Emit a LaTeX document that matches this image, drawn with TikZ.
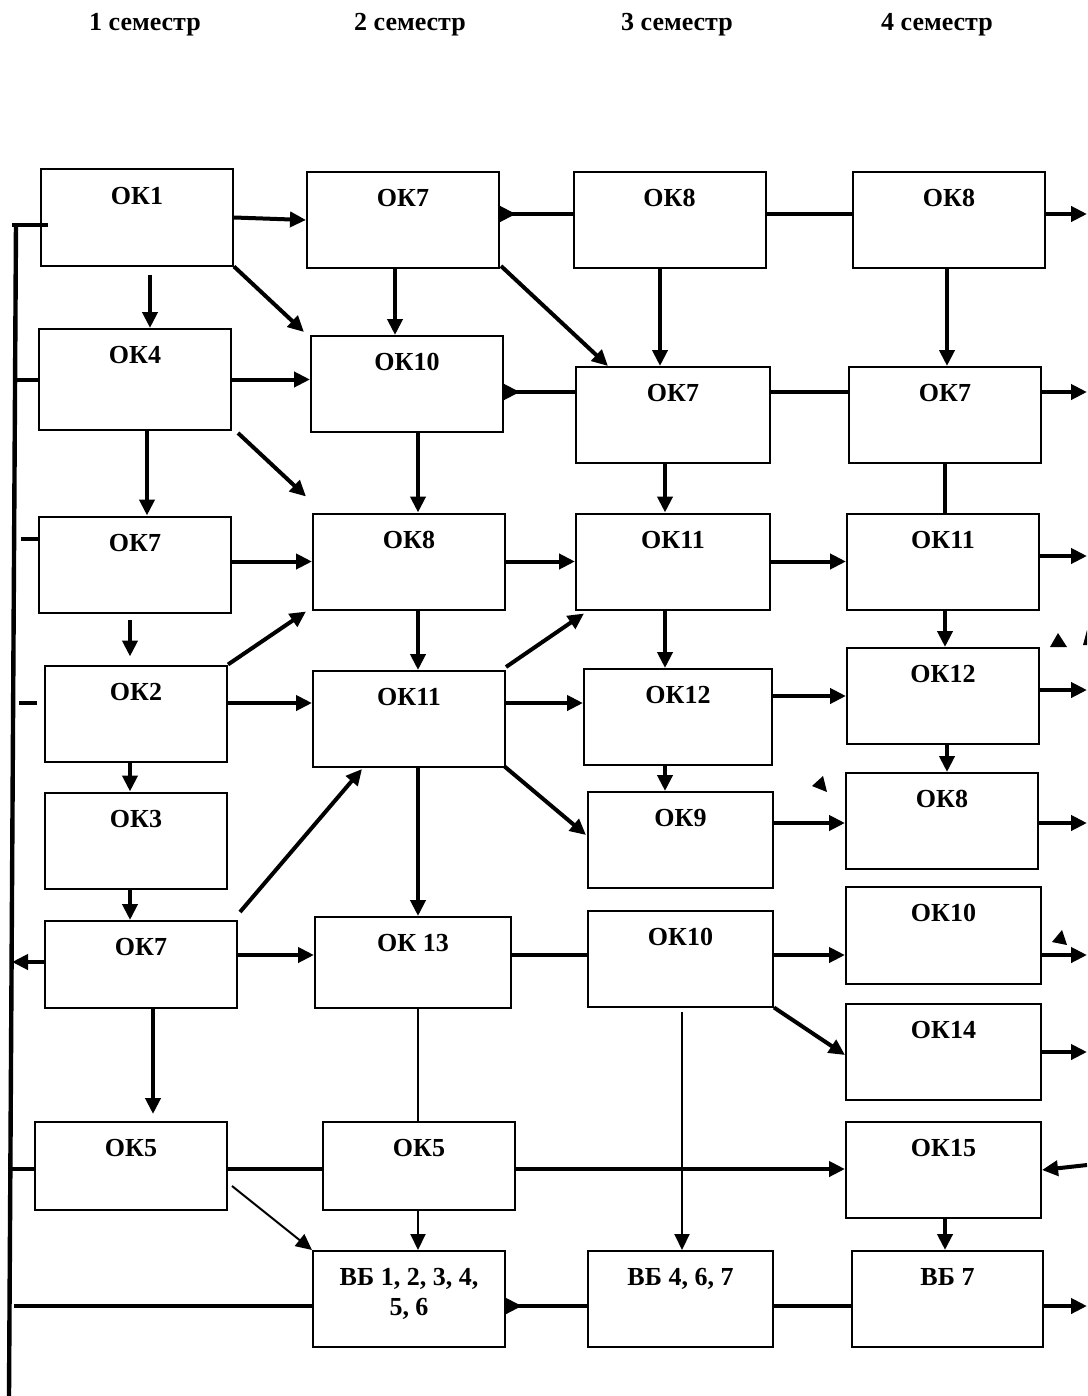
\documentclass[tikz,border=0pt]{standalone}
\usepackage{fontspec}
\setmainfont{Liberation Serif}
\usetikzlibrary{arrows.meta,calc}

\tikzset{
  box/.style={draw, line width=1pt, minimum width=96pt, minimum height=48pt, inner sep=0pt},
  lbl/.style={below=9pt, inner sep=0pt, align=center},
  link/.style={line width=2pt},
  thinlink/.style={line width=1pt},
  bus/.style={line width=2.2pt},
}

\begin{document}
\begin{tikzpicture}[x=0.5pt, y=-0.5pt, >={Triangle[length=8pt,width=7.5pt]},
  font=\bfseries\fontsize{13pt}{15pt}\selectfont]
\useasboundingbox (0,0) rectangle (1087,1396);

% Semester headings
\node (h1) at (145,25) {1 семестр};
\node (h2) at (410,25) {2 семестр};
\node (h3) at (677,25) {3 семестр};
\node (h4) at (937,25) {4 семестр};

% Column 1
\node[box, label={[lbl]north:ОК1}] (k1a) at (137,217.5) {};
\node[box, minimum height=50.5pt, label={[lbl]north:ОК4}] (k1b) at (135,379.5) {};
\node[box, label={[lbl]north:ОК7}] (k1c) at (135,564.5) {};
\node[box, minimum width=91pt, label={[lbl]north:ОК2}] (k1d) at (136,713.5) {};
\node[box, minimum width=91pt, label={[lbl]north:ОК3}] (k1e) at (136,840.5) {};
\node[box, minimum height=43.5pt, label={[lbl]north:ОК7}] (k1f) at (141,964.5) {};
\node[box, minimum height=44pt, label={[lbl]north:ОК5}] (k1g) at (131,1166) {};

% Column 2
\node[box, label={[lbl]north:ОК7}] (k2a) at (403,220) {};
\node[box, label={[lbl]north:ОК10}] (k2b) at (407,384) {};
\node[box, label={[lbl]north:ОК8}] (k2c) at (409,561.5) {};
\node[box, label={[lbl]north:ОК11}] (k2d) at (409,719) {};
\node[box, minimum width=98pt, minimum height=45.5pt, label={[lbl]north:ОК 13}] (k2e) at (413,962.5) {};
\node[box, minimum height=44pt, label={[lbl]north:ОК5}] (k2f) at (419,1166) {};
\node[box, label={[lbl]north:{ВБ 1, 2, 3, 4,\\ 5, 6}}] (k2g) at (409,1299) {};

% Column 3
\node[box, label={[lbl]north:ОК8}] (k3a) at (669.5,220) {};
\node[box, minimum width=97pt, label={[lbl]north:ОК7}] (k3b) at (673,415) {};
\node[box, minimum width=97pt, label={[lbl]north:ОК11}] (k3c) at (673,561.5) {};
\node[box, minimum width=94pt, label={[lbl]north:ОК12}] (k3d) at (678,717) {};
\node[box, minimum width=92.5pt, label={[lbl]north:ОК9}] (k3e) at (680.5,840) {};
\node[box, minimum width=92.5pt, label={[lbl]north:ОК10}] (k3f) at (680.5,958.5) {};
\node[box, minimum width=92.5pt, label={[lbl]north:{ВБ 4, 6, 7}}] (k3g) at (680.5,1299) {};

% Column 4
\node[box, label={[lbl]north:ОК8}] (k4a) at (949,220) {};
\node[box, label={[lbl]north:ОК7}] (k4b) at (945,415) {};
\node[box, label={[lbl]north:ОК11}] (k4c) at (943,561.5) {};
\node[box, label={[lbl]north:ОК12}] (k4d) at (943,696) {};
\node[box, label={[lbl]north:ОК8}] (k4e) at (942,821) {};
\node[box, minimum width=97.5pt, minimum height=48.5pt, label={[lbl]north:ОК10}] (k4f) at (943.5,935.5) {};
\node[box, minimum width=97.5pt, label={[lbl]north:ОК14}] (k4g) at (943.5,1052) {};
\node[box, minimum width=97.5pt, label={[lbl]north:ОК15}] (k4h) at (943.5,1170) {};
\node[box, minimum width=95.5pt, label={[lbl]north:{ВБ 7}}] (k4i) at (947.5,1299) {};

% Free ends on the left bus and the right edge
\coordinate (top) at (16,224);
\coordinate (bot) at (9,1396);
\coordinate (s1) at (12,225);
\coordinate (s2) at (14,380);
\coordinate (s3) at (21,539);
\coordinate (s4) at (19,703);
\coordinate (s5) at (12,962);
\coordinate (s6) at (10,1169);
\coordinate (s7) at (14,1306);
\coordinate (e1) at (1087,214);
\coordinate (e2) at (1087,392);
\coordinate (e3) at (1087,556);
\coordinate (e4) at (1087,690);
\coordinate (e5) at (1087,823);
\coordinate (e6) at (1087,955);
\coordinate (e7) at (1087,1052);
\coordinate (e8) at (1087,1165);
\coordinate (e9) at (1087,1306);

% Left bus
\draw[bus] (top) -- (bot);
\draw[link] (s1) -- ($(k1a.west |- s1)+(8,0)$);
\draw[link] (s2) -- (k1b.west |- s2);
\draw[link] (s3) -- (k1c.west |- s3);
\draw[link] (s4) -- ($(k1d.west |- s4)+(-7,0)$);
\draw[link,->] (k1f.west |- s5) -- (s5);
\draw[link] (s6) -- (k1g.west |- s6);

% Horizontal links
\draw[link,->] (k1a.east) -- (k2a.west);
\draw[link,{Triangle[reversed,length=8pt,width=7.5pt]}-] (k2a.east |- e1) -- (k3a.west |- e1);
\draw[link] (k3a.east |- e1) -- (k4a.west |- e1);
\draw[link,->] (k4a.east |- e1) -- (e1);

\draw[link,->] (k1b.east) -- (k2b.west |- k1b.east);
\draw[link,{Triangle[reversed,length=8pt,width=7.5pt]}-] (k2b.east |- e2) -- (k3b.west |- e2);
\draw[link] (k3b.east |- e2) -- (k4b.west |- e2);
\draw[link,->] (k4b.east |- e2) -- (e2);

\draw[link,->] (k1c.east |- k2c.west) -- (k2c.west);
\draw[link,->] (k2c.east) -- (k3c.west);
\draw[link,->] (k3c.east) -- (k4c.west);
\draw[link,->] (k4c.east |- e3) -- (e3);

\draw[link,->] (k1d.east |- s4) -- (k2d.west |- s4);
\draw[link,->] (k2d.east |- s4) -- (k3d.west |- s4);
\draw[link,->] (k3d.east |- k4d.west) -- (k4d.west);
\draw[link,->] (k4d.east |- e4) -- (e4);

\draw[link,->] (k3e.east |- e5) -- (k4e.west |- e5);
\draw[link,->] (k4e.east |- e5) -- (e5);

\draw[link,->] (k1f.east |- e6) -- (k2e.west |- e6);
\draw[link] (k2e.east |- e6) -- (k3f.west |- e6);
\draw[link,->] (k3f.east |- e6) -- (k4f.west |- e6);
\draw[link,->] (k4f.east |- e6) -- (e6);
\draw[link,->] (k4g.east |- e7) -- (e7);

\draw[link] (k1g.east |- s6) -- (k2f.west |- s6);
\draw[link,->] (k2f.east |- s6) -- (k4h.west |- s6);
\draw[link,->] (e8) -- (k4h.east);

\draw[link] (s7) -- (k2g.west |- s7);
\draw[link,{Triangle[reversed,length=8pt,width=7.5pt]}-] (k2g.east |- s7) -- (k3g.west |- s7);
\draw[link] (k3g.east |- s7) -- (k4i.west |- s7);
\draw[link,->] (k4i.east |- e9) -- (e9);

% Vertical links
\draw[link,->] ($(k1a.south)+(13,8)$) -- ($(k1b.north)+(15,0)$);
\draw[link,->] ($(k2a.south)+(-8,0)$) -- ($(k2b.north)+(-12,0)$);
\draw[link,->] ($(k3a.south)+(-9.5,0)$) -- ($(k3b.north)+(-13,0)$);
\draw[link,->] ($(k4a.south)+(-2,0)$) -- ($(k4b.north)+(2,0)$);
\draw[link,->] ($(k1b.south)+(12,0)$) -- ($(k1c.north)+(12,0)$);
\draw[link,->] ($(k2b.south)+(11,0)$) -- ($(k2c.north)+(9,0)$);
\draw[link,->] ($(k3b.south)+(-8,0)$) -- ($(k3c.north)+(-8,0)$);
\draw[link] (k4b.south) -- ($(k4c.north)+(2,0)$);
\draw[link,->] ($(k1c.south)+(-5,6)$) -- ($(k1d.north)+(-6,-8)$);
\draw[link,->] ($(k2c.south)+(9,0)$) -- ($(k2d.north)+(9,0)$);
\draw[link,->] ($(k3c.south)+(-8,0)$) -- ($(k3d.north)+(-13,0)$);
\draw[link,->] ($(k4c.south)+(2,0)$) -- ($(k4d.north)+(2,0)$);
\draw[link,->] ($(k1d.south)+(-6,0)$) -- ($(k1e.north)+(-6,0)$);
\draw[link,->] ($(k2d.south)+(9,0)$) -- ($(k2e.north)+(5,0)$);
\draw[link,->] ($(k3d.south)+(-13,0)$) -- ($(k3e.north)+(-15.5,0)$);
\draw[link,->] ($(k4d.south)+(4,0)$) -- ($(k4e.north)+(5,0)$);
\draw[link,->] ($(k1e.south)+(-6,0)$) -- ($(k1f.north)+(-11,0)$);
\draw[link,->] ($(k1f.south)+(12,0)$) -- ($(k1g.north)+(22,-7)$);
\draw[thinlink] ($(k2e.south)+(5,0)$) -- ($(k2f.north)+(-1,0)$);
\draw[thinlink,->] ($(k3f.south)+(1.5,4)$) -- ($(k3g.north)+(1.5,0)$);
\draw[thinlink,->] ($(k2f.south)+(-1,0)$) -- ($(k2g.north)+(9,0)$);
\draw[link,->] ($(k4h.south)+(1.5,0)$) -- ($(k4i.north)+(-2.5,0)$);

% Slanted links
\draw[link,->] (k1a.south east) -- ($(k2b.north west)+(-6,-3)$);
\draw[link,->] ($(k2a.south east)+(1,-3)$) -- ($(k3b.north west)+(33,0)$);
\draw[link,->] ($(k1b.south east)+(6,2)$) -- ($(k2c.north west)+(-6,-16)$);
\draw[link,->] (k1d.north east) -- ($(k2c.south west)+(-6,1)$);
\draw[link,->] ($(k2d.north east)+(0,-3)$) -- ($(k3c.south west)+(9,3)$);
\draw[link,->] ($(k2d.south east)+(-2,-2)$) -- ($(k3e.west)+(-1,-5)$);
\draw[link,->] ($(k1f.north east)+(2,-8)$) -- ($(k2d.south)+(-47,1)$);
\draw[link,->] (k3f.south east) -- ($(k4g.west)+(0,3)$);
\draw[thinlink,->] ($(k1g.east)+(4,20)$) -- (k2g.north west);

% Stray arrow heads
\fill (1050,647) -- (1067,647) -- (1058,633) -- cycle;
\fill (1083,645) -- (1087,645) -- (1087,630) -- cycle;
\fill (823,776) -- (812,786) -- (827,792) -- cycle;
\fill (1062,930) -- (1052,942) -- (1067,945) -- cycle;
\end{tikzpicture}
\end{document}
